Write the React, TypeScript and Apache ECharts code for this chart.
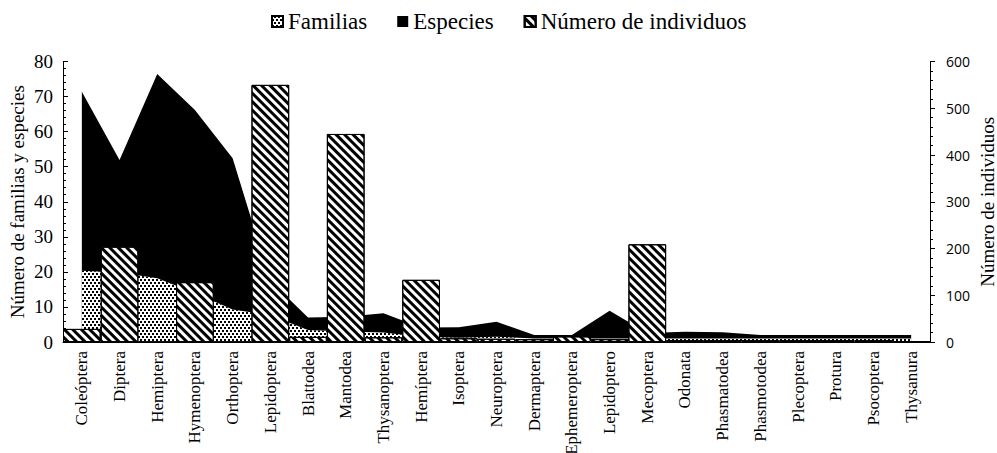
import React, { useEffect, useRef } from "react";
import * as echarts from "echarts";

const categories = [
  "Coleóptera", "Diptera", "Hemiptera", "Hymenoptera", "Orthoptera", "Lepidoptera",
  "Blattodea", "Mantodea", "Thysanoptera", "Hemíptera", "Isoptera", "Neuroptera",
  "Dermaptera", "Ephemeroptera", "Lepidoptero", "Mecoptera", "Odonata", "Phasmatodea",
  "Phasmotodea", "Plecoptera", "Protura", "Psocoptera", "Thysanura",
];

const familias = [20.3, 19.8, 18.2, 14, 9.3, 7.6, 3.4, 3, 2.7, 1.5, 1.2, 1.5, 1, 1, 1, 1, 1, 1, 1, 1, 1, 1, 1];
const especies = [71.4, 51.9, 76.4, 66.2, 52.4, 17.5, 7.0, 7.2, 8.2, 4.1, 4.2, 5.8, 2.0, 2.0, 8.9, 2.6, 2.9, 2.8, 2.0, 2.0, 2.0, 2.0, 2.0];
const individuos = [28, 204, 0, 128, 0, 550, 11, 445, 10, 133, 8, 7, 6, 12, 6, 209, 4, 4, 4, 4, 4, 4, 1];

const leftAxisMax = 80;
const leftAxisStep = 10;
const rightAxisMax = 600;
const rightAxisStep = 100;

const serif = "Liberation Serif";

export default function App() {
  const ref = useRef<HTMLDivElement>(null);
  useEffect(() => {
    if (!ref.current) return;
    const chart = echarts.init(ref.current, null, { renderer: "svg" });
    const dotDecal = {
      symbol: "rect",
      symbolSize: 1,
      color: "#000",
      dashArrayX: [[2, 2], [0, 2, 2, 0]],
      dashArrayY: [2, 1],
      rotation: 0,
    };
    const hatchDecal = {
      symbol: "rect",
      symbolSize: 1,
      color: "#000",
      dashArrayX: [1, 0],
      dashArrayY: [3, 3],
      rotation: Math.PI / 4,
    };
    const axisLineStyle = { color: "#000", width: 1 };
    chart.setOption({
      animation: false,
      backgroundColor: "#fff",
      legend: {
        top: 5,
        left: 266,
        icon: "rect",
        itemWidth: 11,
        itemHeight: 11,
        itemGap: 30,
        textStyle: { fontFamily: serif, fontSize: 23, color: "#000" },
        data: ["Familias", "Especies", "Número de individuos"],
      },
      grid: { left: 63, right: 67, top: 61.5, bottom: 111, containLabel: false, outerBoundsMode: "none" },
      xAxis: {
        type: "category",
        data: categories,
        boundaryGap: true,
        axisLine: { lineStyle: axisLineStyle },
        axisTick: { alignWithLabel: true, length: 5, lineStyle: axisLineStyle },
        axisLabel: {
          rotate: 90,
          interval: 0,
          margin: 9,
          fontFamily: serif,
          fontSize: 17,
          color: "#000",
        },
      },
      yAxis: [
        {
          type: "value",
          min: 0,
          max: leftAxisMax,
          interval: leftAxisStep,
          name: "Número de familias y especies",
          nameLocation: "middle",
          nameGap: 36,
          nameMoveOverlap: false,
          nameTextStyle: { fontFamily: serif, fontSize: 19, color: "#000" },
          axisLine: { show: true, lineStyle: axisLineStyle },
          axisTick: { show: true, inside: true, length: 5, lineStyle: axisLineStyle },
          minorTick: { show: true, splitNumber: 5, length: 3, lineStyle: axisLineStyle },
          splitLine: { show: false },
          axisLabel: { fontFamily: serif, fontSize: 19, color: "#000", margin: 10 },
        },
        {
          type: "value",
          position: "right",
          min: 0,
          max: rightAxisMax,
          interval: rightAxisStep,
          name: "Número de individuos",
          nameLocation: "middle",
          nameGap: 48,
          nameMoveOverlap: false,
          nameTextStyle: { fontFamily: serif, fontSize: 19, color: "#000" },
          axisLine: { show: true, lineStyle: axisLineStyle },
          axisTick: { show: true, inside: false, length: 5, lineStyle: axisLineStyle },
          minorTick: { show: true, splitNumber: 5, length: 3, lineStyle: axisLineStyle },
          splitLine: { show: false },
          axisLabel: { fontFamily: "Open Sans", fontSize: 14, color: "#000", margin: 16 },
        },
      ],
      series: [
        {
          name: "Especies",
          type: "line",
          yAxisIndex: 0,
          z: 1,
          data: especies,
          symbol: "none",
          showSymbol: false,
          lineStyle: { width: 0, opacity: 0, color: "#000" },
          itemStyle: { color: "#000" },
          areaStyle: { color: "#000", opacity: 1 },
        },
        {
          name: "Familias",
          type: "line",
          yAxisIndex: 0,
          z: 2,
          data: familias,
          symbol: "none",
          showSymbol: false,
          lineStyle: { width: 0, opacity: 0, color: "#fff", decal: dotDecal },
          itemStyle: { color: "#fff", borderColor: "#000", borderWidth: 1, decal: dotDecal },
          areaStyle: { color: "#fff", opacity: 1 },
        },
        {
          name: "Número de individuos",
          type: "bar",
          yAxisIndex: 1,
          z: 5,
          data: individuos,
          barCategoryGap: "0%",
          barGap: "0%",
          itemStyle: { color: "#fff", borderColor: "#000", borderWidth: 1, decal: hatchDecal },
        },
      ],
    });
    return () => chart.dispose();
  }, []);
  return (
    <div
      ref={ref}
      style={{ position: "fixed", left: 0, top: 0, width: 997, height: 453, background: "#fff" }}
    />
  );
}
